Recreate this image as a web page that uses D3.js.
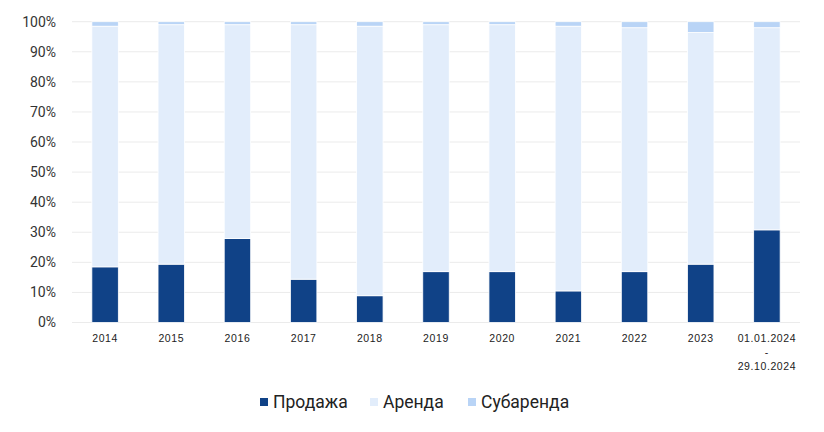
<!DOCTYPE html>
<html><head><meta charset="utf-8">
<script src="https://cdn.jsdelivr.net/npm/d3@7"></script>
<style>body{margin:0;background:#fff;font-family:Roboto,Arial,sans-serif}</style>
</head><body><svg id="c" width="824" height="432"></svg>
<script>
const categories = ["2014","2015","2016","2017","2018","2019","2020","2021","2022","2023","01.01.2024\n-\n29.10.2024"];
const sale     = [18.5, 19.4, 27.9, 14.4, 8.9, 16.9, 16.9, 10.5, 16.9, 19.4, 30.8];
const sublease = [1.5, 1.0, 1.0, 1.0, 1.5, 1.0, 1.0, 1.5, 2.0, 3.6, 2.0];
const lease    = sale.map((s,i)=>100 - s - sublease[i]);
const seriesNames = ["Продажа","Аренда","Субаренда"];
const colors = ["#104287","#e2edfb","#b9d4f6"];
const yTicks = [0,10,20,30,40,50,60,70,80,90,100];

const svg = d3.select("#c");
const m = {l:72, r:24};
const W = 824;
const x = d3.scaleBand().domain(categories).range([m.l, W-m.r]).paddingInner(0.6).paddingOuter(0.3);
const y = d3.scaleLinear().domain([0,100]).range([322.5, 21.7]);

// grid
svg.append("g").selectAll("line").data(yTicks).join("line")
  .attr("x1", m.l).attr("x2", W-m.r)
  .attr("y1", d=>y(d)).attr("y2", d=>y(d))
  .attr("stroke","#ebebeb").attr("stroke-width",1);

// y labels
svg.append("g").selectAll("text").data(yTicks).join("text")
  .attr("x", 56).attr("y", d=>y(d)).attr("dy","0.35em")
  .attr("text-anchor","end").attr("font-size",14).attr("fill","#333")
  .text(d=>d+"%");

const data = categories.map((c,i)=>({cat:c, s0:sale[i], s1:lease[i], s2:sublease[i]}));
const stack = d3.stack().keys(["s0","s1","s2"])(data);
svg.append("g").selectAll("g").data(stack).join("g")
  .attr("fill",(d,i)=>colors[i])
  .selectAll("rect").data(d=>d).join("rect")
  .attr("x", d=>x(d.data.cat)).attr("width", x.bandwidth())
  .attr("y", d=>y(d[1])).attr("height", d=>y(d[0])-y(d[1]))
  .attr("stroke","#ffffff").attr("stroke-width",0.8);

// x labels
const xl = svg.append("g").selectAll("text").data(categories).join("text")
  .attr("x", d=>x(d)+x.bandwidth()/2).attr("y", 342)
  .attr("text-anchor","middle").attr("font-size",10.5).attr("fill","#222")
  .attr("letter-spacing","0.6px")
  .attr("font-family","'Liberation Sans',Arial,sans-serif");
xl.each(function(d){
  const lines = d.split("\n");
  d3.select(this).selectAll("tspan").data(lines).join("tspan")
    .attr("x", x(d)+x.bandwidth()/2).attr("dy",(l,i)=>i===0?0:14).text(l=>l);
});

// legend
const legX = [260, 370, 468];
const lg = svg.append("g").selectAll("g").data(seriesNames).join("g")
  .attr("transform",(d,i)=>`translate(${legX[i]},402)`);
lg.append("rect").attr("x",0).attr("y",-4).attr("width",8).attr("height",8).attr("fill",(d,i)=>colors[i]);
lg.append("text").attr("x",13).attr("y",0).attr("dy","0.35em").attr("font-size",17.5).attr("fill","#222").text(d=>d);
</script></body></html>
